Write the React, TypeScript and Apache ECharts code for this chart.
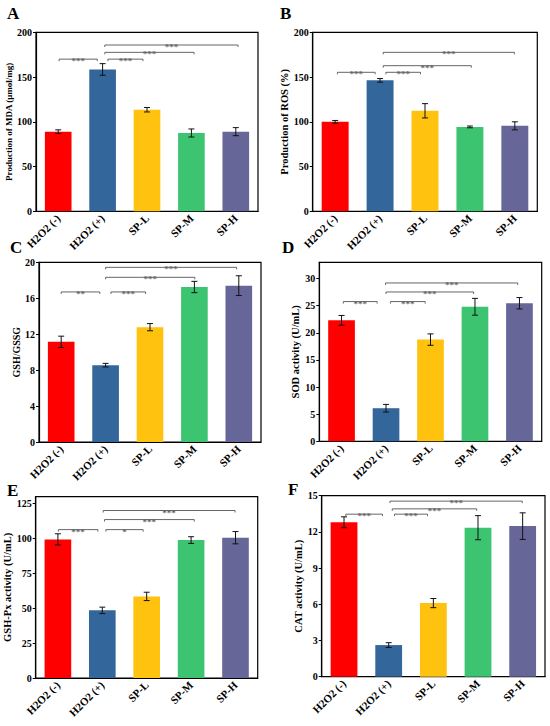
import React, { useEffect, useRef } from "react";
import * as echarts from "echarts";

const categories = ["H2O2 (-)", "H2O2 (+)", "SP-L", "SP-M", "SP-H"];
const barColors = ["#FF0000", "#33669A", "#FFC20E", "#3DC470", "#666699"];

const mdaMean = [89, 158.5, 113.5, 87.5, 89];
const mdaErr = [2, 6.5, 2.5, 4.5, 4.5];
const rosMean = [100, 146.3, 112.3, 94.3, 95.5];
const rosErr = [1.5, 2, 8, 1, 4.5];
const gshMean = [11.15, 8.55, 12.78, 17.25, 17.4];
const gshErr = [0.63, 0.2, 0.4, 0.63, 1.1];
const sodMean = [22.3, 6.1, 18.75, 24.8, 25.45];
const sodErr = [0.9, 0.7, 1.05, 1.55, 1.05];
const gpxMean = [99.4, 48.5, 58.5, 98.9, 100.6];
const gpxErr = [4, 2.3, 3, 2.4, 4.4];
const catMean = [12.8, 2.62, 6.1, 12.35, 12.48];
const catErr = [0.45, 0.2, 0.38, 1.0, 1.1];

// significance brackets: [fromX, toX, y] in category units (0 = first bar centre)
const sigA = [[0.02, 0.88, 170], [1.12, 1.91, 170], [1.05, 3.06, 177.6], [1.05, 4.05, 185.8]];
const starsA = ["***", "***", "***", "***"];
const sigB = [[0.05, 0.89, 155.3], [1.13, 1.9, 155.3], [1.07, 3.03, 162.7], [1.07, 3.99, 177.6]];
const starsB = ["***", "***", "***", "***"];
const sigC = [[0.0, 0.87, 16.7], [1.12, 1.9, 16.7], [1.0, 3.01, 18.33], [1.0, 3.95, 19.44]];
const starsC = ["**", "***", "***", "***"];
const sigD = [[0.04, 0.8, 25.76], [1.1, 1.88, 25.76], [1.0, 2.97, 27.53], [0.99, 3.96, 29.19]];
const starsD = ["***", "***", "***", "***"];
const sigE = [[0.01, 0.9, 106.4], [1.08, 1.92, 106.4], [1.05, 3.07, 113.6], [1.02, 3.99, 120.1]];
const starsE = ["***", "*", "***", "***"];
const sigF = [[0.04, 0.86, 13.47], [1.13, 1.87, 13.47], [1.08, 2.97, 13.91], [1.03, 3.99, 14.55]];
const starsF = ["***", "***", "***", "***"];

const panelLetters = ["A", "B", "C", "D", "E", "F"];
const yNames = [
  "Production of MDA (μmol/mg)",
  "Production of ROS (%)",
  "GSH/GSSG",
  "SOD activity (U/mL)",
  "GSH-Px activity (U/mL)",
  "CAT activity (U/mL)",
];
const yMax = [200, 200, 20, 33, 130, 15];
const yInterval = [50, 50, 4, 5, 25, 3];

const FONT = '"Liberation Serif", "Times New Roman", serif';

export default function App() {
  const ref = useRef<HTMLDivElement>(null);

  useEffect(() => {
    if (!ref.current) return;
    const chart = echarts.init(ref.current, undefined, { renderer: "svg" });

    const means = [mdaMean, rosMean, gshMean, sodMean, gpxMean, catMean];
    const errs = [mdaErr, rosErr, gshErr, sodErr, gpxErr, catErr];
    const sigs = [sigA, sigB, sigC, sigD, sigE, sigF];
    const stars = [starsA, starsB, starsC, starsD, starsE, starsF];

    const grids = [
      { left: 36, top: 32.3, width: 222, height: 179 },
      { left: 312.7, top: 32.3, width: 224.6, height: 179 },
      { left: 39, top: 262.3, width: 222, height: 179.7 },
      { left: 319.3, top: 262.3, width: 222.4, height: 179 },
      { left: 35.7, top: 496.7, width: 222, height: 181.3 },
      { left: 321.7, top: 495.7, width: 223.3, height: 181 },
    ];
    const nameGaps = [20.5, 19.5, 16.5, 18, 21.5, 13.5];
    const nameSizes = [9, 10.5, 10, 10.5, 10.5, 10.5];
    const letterPos = [
      [7, 13.5],
      [280, 13],
      [10, 247],
      [282, 247],
      [7, 490],
      [288, 489],
    ];

    const grid: any[] = [];
    const xAxis: any[] = [];
    const yAxis: any[] = [];
    const series: any[] = [];
    const graphic: any[] = [];

    for (let i = 0; i < 6; i++) {
      grid.push({
        ...grids[i],
        show: true,
        borderColor: "#000",
        borderWidth: 1.2,
        backgroundColor: "transparent",
      });
      xAxis.push({
        type: "category",
        gridIndex: i,
        data: categories,
        axisLine: { onZero: false, lineStyle: { color: "#000", width: 1.2 } },
        axisTick: { alignWithLabel: true, length: 3, lineStyle: { color: "#000" } },
        axisLabel: {
          rotate: 45,
          margin: 5,
          color: "#000",
          fontFamily: FONT,
          fontWeight: "bold",
          fontSize: 11,
          interval: 0,
        },
      });
      xAxis.push({
        type: "value",
        gridIndex: i,
        min: -0.5,
        max: 4.5,
        show: false,
      });
      yAxis.push({
        type: "value",
        gridIndex: i,
        min: 0,
        max: yMax[i],
        interval: yInterval[i],
        name: yNames[i],
        nameLocation: "middle",
        nameGap: nameGaps[i],
        nameTextStyle: {
          fontFamily: FONT,
          fontWeight: "bold",
          fontSize: nameSizes[i],
          color: "#000",
        },
        splitLine: { show: false },
        axisLine: { show: true, onZero: false, lineStyle: { color: "#000", width: 1.2 } },
        axisTick: { show: true, length: 3, lineStyle: { color: "#000" } },
        axisLabel: {
          color: "#000",
          fontFamily: FONT,
          fontWeight: "bold",
          fontSize: 10,
          margin: 4,
          showMaxLabel: yMax[i] % yInterval[i] === 0,
        },
      });

      const m = means[i];
      const e = errs[i];
      series.push({
        type: "bar",
        xAxisIndex: 2 * i,
        yAxisIndex: i,
        barWidth: "60%",
        data: m.map((v, k) => ({ value: v, itemStyle: { color: barColors[k] } })),
      });
      series.push({
        type: "custom",
        xAxisIndex: 2 * i,
        yAxisIndex: i,
        data: m.map((v, k) => [k, v]),
        renderItem: (params: any, api: any) => {
          const k = params.dataIndex;
          const lo = api.coord([k, m[k] - e[k]]);
          const hi = api.coord([k, m[k] + e[k]]);
          const w = 3;
          const st = { stroke: "#111", lineWidth: 1 };
          return {
            type: "group",
            children: [
              { type: "line", shape: { x1: lo[0], y1: lo[1], x2: hi[0], y2: hi[1] }, style: st },
              { type: "line", shape: { x1: lo[0] - w, y1: lo[1], x2: lo[0] + w, y2: lo[1] }, style: st },
              { type: "line", shape: { x1: hi[0] - w, y1: hi[1], x2: hi[0] + w, y2: hi[1] }, style: st },
            ],
          };
        },
        z: 5,
      });
      const s = stars[i];
      const sg = sigs[i];
      series.push({
        type: "custom",
        xAxisIndex: 2 * i + 1,
        yAxisIndex: i,
        data: sg.map((r) => [r[0], r[2]]),
        renderItem: (params: any, api: any) => {
          const r = sg[params.dataIndex];
          const p1 = api.coord([r[0], r[2]]);
          const p2 = api.coord([r[1], r[2]]);
          const mid = (p1[0] + p2[0]) / 2;
          const st = { stroke: "#555", lineWidth: 0.9 };
          return {
            type: "group",
            children: [
              { type: "line", shape: { x1: p1[0], y1: p1[1], x2: p2[0], y2: p2[1] }, style: st },
              { type: "line", shape: { x1: p1[0], y1: p1[1], x2: p1[0], y2: p1[1] + 2 }, style: st },
              { type: "line", shape: { x1: p2[0], y1: p2[1], x2: p2[0], y2: p2[1] + 2 }, style: st },
              {
                type: "text",
                x: mid,
                y: p1[1] + 2,
                style: {
                  text: s[params.dataIndex],
                  fill: "#666",
                  font: `bold 9px ${FONT}`,
                  align: "center",
                  verticalAlign: "middle",
                },
              },
            ],
          };
        },
        z: 6,
      });

      graphic.push({
        type: "text",
        x: letterPos[i][0],
        y: letterPos[i][1],
        style: {
          text: panelLetters[i],
          fill: "#000",
          font: `bold 17px ${FONT}`,
          align: "left",
          verticalAlign: "middle",
        },
      });
    }

    chart.setOption({
      animation: false,
      backgroundColor: "#fff",
      grid,
      xAxis,
      yAxis,
      series,
      graphic,
    });

    return () => chart.dispose();
  }, []);

  return (
    <div
      ref={ref}
      style={{ position: "absolute", left: 0, top: 0, width: 550, height: 726 }}
    />
  );
}
